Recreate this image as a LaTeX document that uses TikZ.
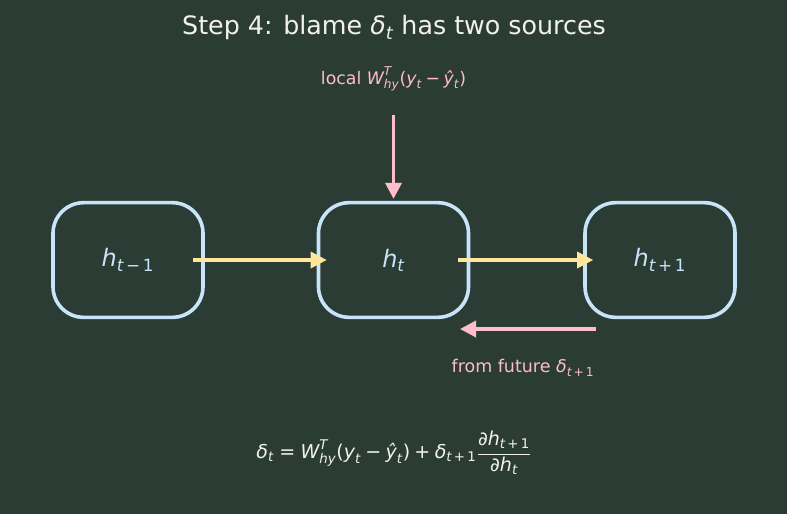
\documentclass[tikz,border=0pt]{standalone}
\usepackage{fontspec}
\setmainfont{DejaVu Sans}
\usepackage{amsmath}
\usetikzlibrary{arrows.meta,positioning}
\definecolor{bg}{HTML}{2B3C34}
\definecolor{boxblue}{HTML}{C8E4F8}
\definecolor{fwdyel}{HTML}{FFE69A}
\definecolor{blpink}{HTML}{FFBCCB}
\definecolor{txtw}{HTML}{F2F2EA}
\newcommand{\tx}[1]{\text{\itshape #1}}
\begin{document}
\begin{tikzpicture}[x=0.75pt,y=-0.75pt,
  cell/.style={draw=boxblue,line width=2.7pt,rounded corners=23pt,minimum width=112.5pt,minimum height=86pt,text=boxblue,font=\fontsize{18}{22}\selectfont},
  fwd/.style={draw=fwdyel,line width=2.6pt,-{Triangle[length=12pt,width=12pt]}},
  blame/.style={draw=blpink,line width=2.6pt,-{Triangle[length=12pt,width=12pt]}}]
\fill[bg] (0,0) rectangle (787,514);
\useasboundingbox (0,0) rectangle (787,514);
\node[text=txtw,font=\fontsize{19}{23}\selectfont] (title) at (394,28) {Step 4: blame $\tx{δ}_{\tx{t}}$ has two sources};
% the three states
\node[cell] (hprev) at (128,260) {$\tx{h}_{\tx{t}\,\text{−}\,\text{1}}$};
\node[cell] (hcur) at (393.5,260) {$\tx{h}_{\tx{t}}$};
\node[cell] (hnext) at (660,260) {$\tx{h}_{\tx{t}\,\text{+}\,\text{1}}$};
\draw[fwd,shorten <=-9pt,shorten >=-7.5pt] (hprev) -- (hcur);
\draw[fwd,shorten <=-9pt,shorten >=-7.5pt] (hcur) -- (hnext);
% blame from the local loss
\node[text=blpink,font=\fontsize{13}{16}\selectfont] (local) at (393.5,79) {local $\tx{W}^{\tx{T}}_{\tx{hy}}\text{(}\tx{y}_{\tx{t}}\mathbin{\text{−}}\tx{ŷ}_{\tx{t}}\text{)}$};
\draw[blame,shorten <=14.5pt,shorten >=1.5pt] (local) -- (hcur);
% blame from the future
\coordinate (futsrc) at (596,329);
\coordinate (futdst) at (460,329);
\draw[blame] (futsrc) -- (futdst);
\node[text=blpink,font=\fontsize{13.1}{16}\selectfont] (future) at (523,368) {from future $\tx{δ}_{\tx{t}\,\text{+}\,\text{1}}$};
\node[text=txtw,font=\fontsize{14.3}{17}\selectfont] (formula) at (394,453) {$\tx{δ}_{\tx{t}}\mathrel{\text{=}}\tx{W}^{\tx{T}}_{\tx{hy}}\text{(}\tx{y}_{\tx{t}}\mathbin{\text{−}}\tx{ŷ}_{\tx{t}}\text{)}\mathbin{\text{+}}\tx{δ}_{\tx{t}\,\text{+}\,\text{1}}\dfrac{\tx{∂h}_{\tx{t}\,\text{+}\,\text{1}}}{\tx{∂h}_{\tx{t}}}$};
\end{tikzpicture}
\end{document}
